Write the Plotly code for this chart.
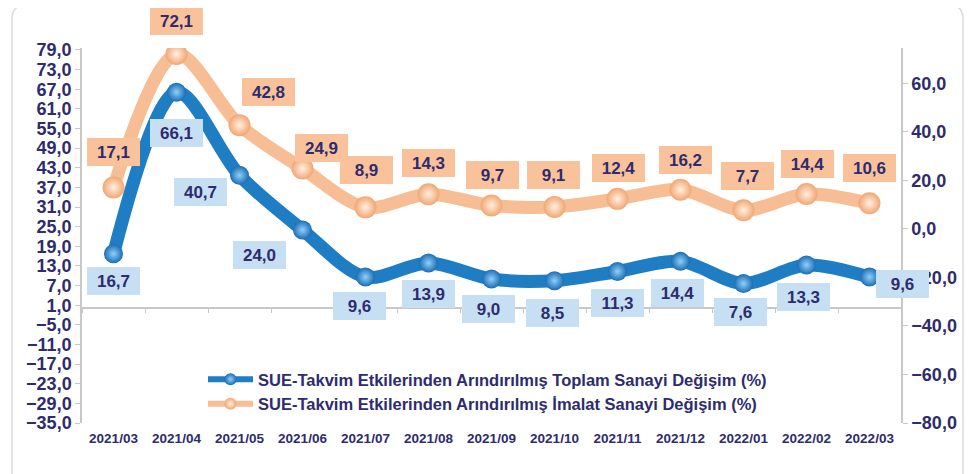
import plotly.graph_objects as go

categories = ["2021/03", "2021/04", "2021/05", "2021/06", "2021/07", "2021/08", "2021/09",
              "2021/10", "2021/11", "2021/12", "2022/01", "2022/02", "2022/03"]
toplam = [16.7, 66.1, 40.7, 24.0, 9.6, 13.9, 9.0, 8.5, 11.3, 14.4, 7.6, 13.3, 9.6]
imalat = [17.1, 72.1, 42.8, 24.9, 8.9, 14.3, 9.7, 9.1, 12.4, 16.2, 7.7, 14.4, 10.6]

name_toplam = "SUE-Takvim Etkilerinden Arındırılmış Toplam Sanayi Değişim (%)"
name_imalat = "SUE-Takvim Etkilerinden Arındırılmış İmalat Sanayi Değişim (%)"

# label offsets (px) relative to the point
toplam_shift = [(0, -27), (0, -41), (-39, -17), (-43, -25), (-6, -29), (0, -31), (-3, -30),
                (-2, -32), (0, -32), (-3, -32), (-3, -28), (-3, -32), (33, -7)]
imalat_shift = [(0, 35), (0, 33), (29, 33), (19, 21), (1, 37), (0, 31), (1, 30),
                (-1, 32), (1, 31), (5, 30), (4, 34), (1, 30), (0, 35)]

NAVY = "#2e2b6e"
FONT = "Arial, Liberation Sans, sans-serif"
BLUE = "#1f7dc4"
ORANGE = "#f7bd94"

OFF = 8  # page body margin
W, H = 975 - OFF, 474 - OFF
L, T = 82 - OFF, 48 - OFF
R = W - (901 - OFF)
B = H - (423 - OFF)
PW, PH = W - L - R, H - T - B
Y1 = [-35, 79.6]
Y2 = [-80, 74.6]


def px(x):
    return (x - OFF - L) / PW


def py(y):
    return (H - B - (y - OFF)) / PH


fig = go.Figure()

fig.add_trace(go.Scatter(
    x=categories, y=toplam, name=name_toplam, mode="lines+markers",
    line=dict(color=BLUE, width=13, shape="spline", smoothing=0.9),
    marker=dict(size=19, color="#1a6db5", line=dict(width=0),
                gradient=dict(type="radial", color="#8fd0f7")),
    xaxis="x", yaxis="y", hoverinfo="x+y", showlegend=False, legendgroup="a"))

fig.add_trace(go.Scatter(
    x=categories, y=imalat, name=name_imalat, mode="lines+markers",
    line=dict(color=ORANGE, width=13, shape="spline", smoothing=0.9),
    marker=dict(size=22, color="#f2a672", line=dict(width=0),
                gradient=dict(type="radial", color="#fff0e2")),
    xaxis="x", yaxis="y2", hoverinfo="x+y", showlegend=False, legendgroup="b"))

# legend entries (thinner symbol like the original)
fig.add_trace(go.Scatter(
    x=[None], y=[None], name=name_toplam, mode="lines+markers",
    line=dict(color=BLUE, width=6), legendgroup="a",
    marker=dict(size=12, color="#1a6db5", gradient=dict(type="radial", color="#8fd0f7"))))
fig.add_trace(go.Scatter(
    x=[None], y=[None], name=name_imalat, mode="lines+markers", yaxis="y2",
    line=dict(color=ORANGE, width=6), legendgroup="b",
    marker=dict(size=12, color="#f2a672", gradient=dict(type="radial", color="#fff0e2"))))

# invisible trace to carry the category axis drawn at zero
fig.add_trace(go.Scatter(
    x=categories, y=toplam, mode="lines", line=dict(width=0), opacity=0,
    showlegend=False, hoverinfo="skip", xaxis="x2", yaxis="y"))


def fmt(v):
    return f"{v:.1f}".replace(".", ",")


annotations = []
for c, v, (dx, dy) in zip(categories, toplam, toplam_shift):
    annotations.append(dict(
        x=c, y=v, xref="x", yref="y", text=fmt(v), showarrow=False,
        xshift=dx, yshift=dy, bgcolor="#c7dff3", borderpad=2, borderwidth=0,
        width=49, height=24, font=dict(family=FONT, size=17, color=NAVY, weight="bold")))
for c, v, (dx, dy) in zip(categories, imalat, imalat_shift):
    annotations.append(dict(
        x=c, y=v, xref="x", yref="y2", text=fmt(v), showarrow=False,
        xshift=dx, yshift=dy, bgcolor="#f9c29b", borderpad=2, borderwidth=0,
        width=49, height=24, font=dict(family=FONT, size=17, color=NAVY, weight="bold")))

zero_pos = (0 - Y1[0]) / (Y1[1] - Y1[0])

border_path = (f"M {px(12)} {py(480)} L {px(12)} {py(19)} Q {px(12)} {py(5)} {px(26)} {py(5)} "
               f"L {px(949)} {py(5)} Q {px(963)} {py(5)} {px(963)} {py(19)} L {px(963)} {py(480)}")

fig.update_layout(
    template="none",
    width=W, height=H,
    margin=dict(l=L, r=R, t=T, b=B, pad=0),
    paper_bgcolor="white", plot_bgcolor="white",
    separators=",.",
    font=dict(family=FONT, color=NAVY),
    showlegend=True,
    legend=dict(x=px(203), y=py(362), xanchor="left", yanchor="top",
                bgcolor="rgba(0,0,0,0)", itemwidth=45, tracegroupgap=0,
                font=dict(family=FONT, size=16.5, color=NAVY, weight="bold")),
    xaxis=dict(type="category", range=[-0.5, len(categories) - 0.5], automargin=False,
               showline=False, ticks="", showgrid=False, zeroline=False,
               tickfont=dict(family=FONT, size=13.5, color=NAVY, weight="bold"),
               ticklabelstandoff=5),
    xaxis2=dict(type="category", range=[-0.5, len(categories) - 0.5], overlaying="x",
                anchor="free", position=zero_pos, showline=True, linecolor="#c8c8c8",
                linewidth=1.5, ticks="outside", tickson="boundaries", ticklen=4,
                tickcolor="#c8c8c8", showticklabels=False, showgrid=False, zeroline=False,
                automargin=False),
    yaxis=dict(range=Y1, tick0=-35, dtick=6, tickformat=".1f", showgrid=False,
               zeroline=False, showline=True, linecolor="#c8c8c8", linewidth=1.5,
               ticks="outside", ticklen=5, tickcolor="#c8c8c8", automargin=False,
               tickfont=dict(family=FONT, size=18, color=NAVY, weight="bold")),
    yaxis2=dict(range=Y2, tick0=-80, dtick=20, tickformat=".1f", overlaying="y",
                side="right", showgrid=False, zeroline=False, showline=True,
                linecolor="#c8c8c8", linewidth=1.5, ticks="outside", ticklen=5,
                tickcolor="#c8c8c8", automargin=False,
                tickfont=dict(family=FONT, size=18, color=NAVY, weight="bold")),
    annotations=annotations,
    shapes=[dict(type="path", path=border_path, xref="paper", yref="paper",
                 line=dict(color="#dcdcdc", width=1.5), layer="below")],
)

fig.write_html("out.html")
